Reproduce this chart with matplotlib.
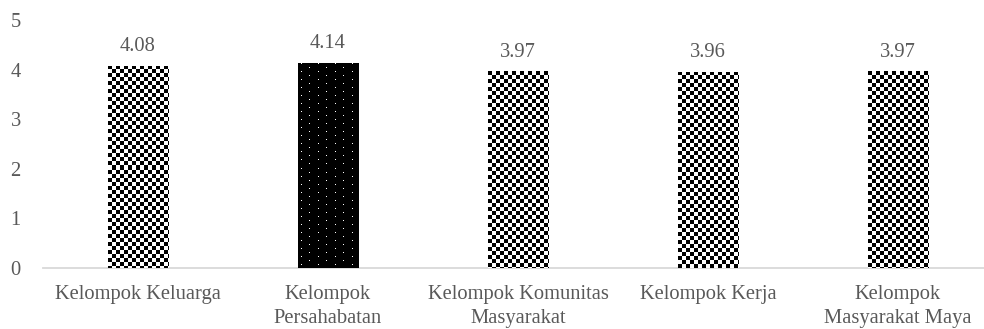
import numpy as np
import matplotlib
matplotlib.use("Agg")
import matplotlib.pyplot as plt

categories = [
    "Kelompok Keluarga",
    "Kelompok\nPersahabatan",
    "Kelompok Komunitas\nMasyarakat",
    "Kelompok Kerja",
    "Kelompok\nMasyarakat Maya",
]
values = [4.08, 4.14, 3.97, 3.96, 3.97]
patterns = ["checker", "dots", "checker", "checker", "checker"]
yticks = [0, 1, 2, 3, 4, 5]

TEXT = "#595959"
FS = 14.8
plt.rcParams["font.family"] = ["Liberation Serif", "DejaVu Serif"]

W, H, DPI = 984, 329, 100
fig = plt.figure(figsize=(W / DPI, H / DPI), dpi=DPI)
ax = fig.add_axes([43 / W, (H - 268) / H, 950 / W, 248 / H])

x = np.arange(len(categories))
bars = ax.bar(x, values, width=0.32, color="white", edgecolor="none", zorder=2)

ax.set_xlim(-0.5, len(categories) - 0.5)
ax.set_ylim(0, 5)
ax.set_yticks(yticks)
ax.set_yticklabels([str(t) for t in yticks])
ax.set_xticks(x)
ax.set_xticklabels(categories, linespacing=1.4)

for s in ["top", "right", "left"]:
    ax.spines[s].set_visible(False)
ax.spines["bottom"].set_color("#d9d9d9")
ax.spines["bottom"].set_linewidth(1.3)
ax.tick_params(axis="both", length=0, colors=TEXT, labelsize=FS)
ax.tick_params(axis="y", pad=16)
ax.tick_params(axis="x", pad=12)


def checker(h, w, cell=4):
    yy, xx = np.mgrid[0:h, 0:w]
    on = ((yy // cell) + (xx // cell)) % 2 == 0
    img = np.ones((h, w, 3))
    img[on] = 0.0
    return img


def dots(h, w, px=17, py=4):
    img = np.zeros((h, w, 3))
    for r, yy in enumerate(range(1, h, py)):
        off = 3 if r % 2 == 0 else 3 + px // 2
        for xx in range(off, w, px):
            img[yy, xx] = 1.0
    return img


fig.canvas.draw()
for bar, pat in zip(bars, patterns):
    x0, y0 = bar.get_x(), bar.get_y()
    x1, y1 = x0 + bar.get_width(), y0 + bar.get_height()
    (p0x, p0y), (p1x, p1y) = ax.transData.transform([(x0, y0), (x1, y1)])
    w = max(int(round(p1x - p0x)), 1)
    h = max(int(round(p1y - p0y)), 1)
    img = checker(h, w) if pat == "checker" else dots(h, w)
    im = ax.imshow(img, extent=(x0, x1, y0, y1), origin="upper",
                   interpolation="nearest", aspect="auto", zorder=3)
    im.set_clip_path(bar)

ax.set_xlim(-0.5, len(categories) - 0.5)
ax.set_ylim(0, 5)

for xi, v in zip(x, values):
    ax.annotate(f"{v:.2f}", (xi, v), xytext=(0, 10.5), textcoords="offset points",
                ha="center", va="baseline", color=TEXT, fontsize=FS)

fig.savefig("out.png", dpi=DPI)
